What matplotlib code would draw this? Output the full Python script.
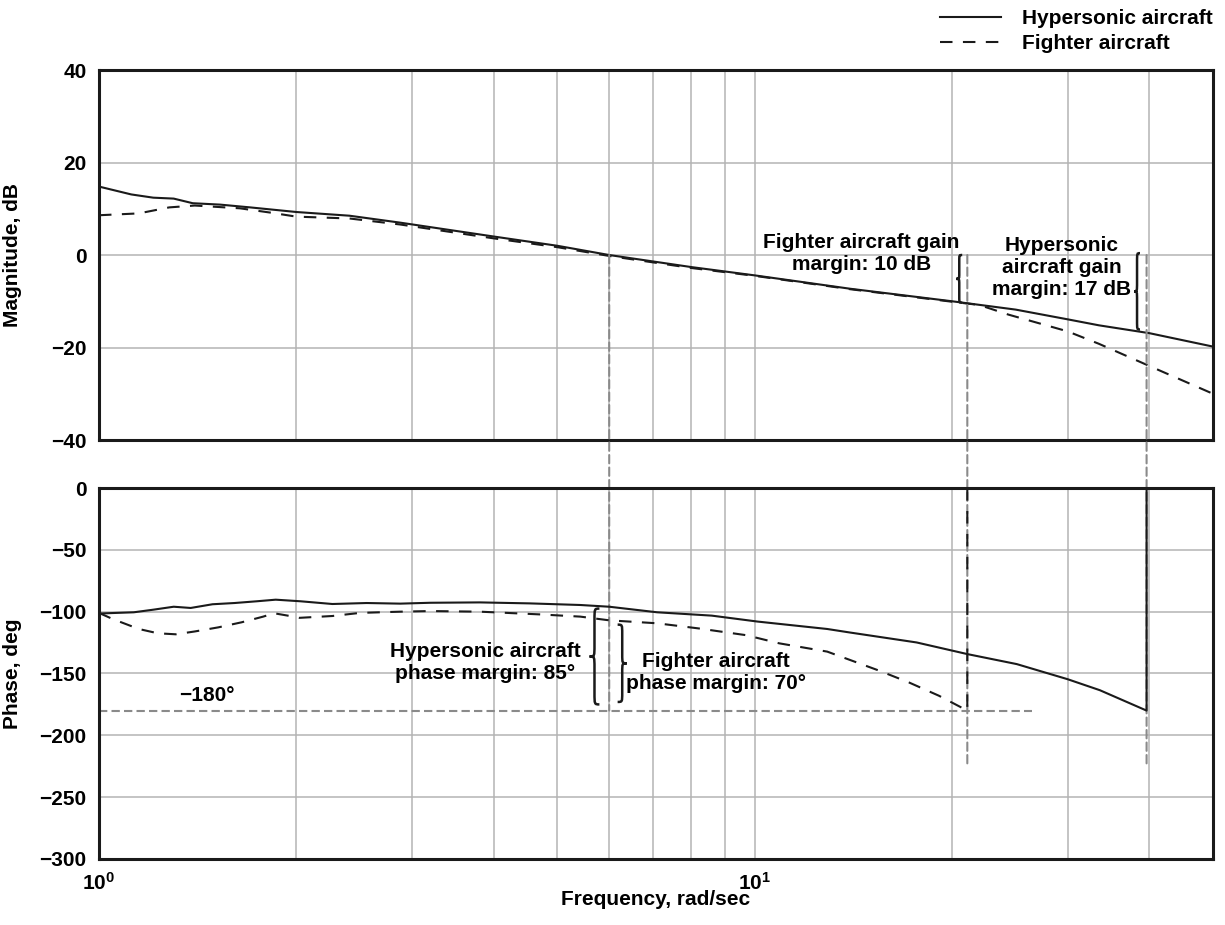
import numpy as np
import matplotlib
matplotlib.use('Agg')
import matplotlib.pyplot as plt
from matplotlib.path import Path
from matplotlib.patches import PathPatch, ConnectionPatch
from matplotlib.lines import Line2D
from matplotlib.ticker import FuncFormatter, NullFormatter, LogLocator

plt.rcParams['font.family'] = ['Liberation Sans', 'DejaVu Sans']
plt.rcParams['font.weight'] = 'bold'
plt.rcParams['axes.labelweight'] = 'bold'
plt.rcParams['mathtext.fontset'] = 'custom'
plt.rcParams['mathtext.bf'] = 'Liberation Sans:bold'
plt.rcParams['mathtext.rm'] = 'Liberation Sans:bold'

# magnitude response, rad/sec vs dB
hyp_mag_freq = [1.0, 1.12, 1.21, 1.30, 1.39, 1.53, 1.70, 2.0, 2.41, 2.88, 4.0, 5.0,
                6.0, 8.0, 10.0, 14.0, 20.0, 25.0, 30.0, 33.5, 40.0, 50.0]
hyp_mag = [14.8, 13.1, 12.4, 12.2, 11.2, 10.9, 10.3, 9.3, 8.5, 7.0, 4.0, 2.0,
           0.0, -2.6, -4.4, -7.3, -10.0, -11.8, -13.9, -15.2, -16.9, -19.8]

ftr_mag_freq = [1.0, 1.15, 1.28, 1.40, 1.64, 1.82, 2.0, 2.41, 2.88, 4.0, 5.0, 6.0,
                8.0, 10.0, 14.0, 20.0, 22.0, 24.4, 30.0, 33.5, 40.0, 50.0]
ftr_mag = [8.6, 9.0, 10.3, 10.7, 10.1, 9.2, 8.3, 7.9, 6.6, 3.6, 1.7, -0.2,
           -2.8, -4.5, -7.4, -10.1, -10.8, -12.9, -16.5, -19.2, -24.0, -30.0]

# phase response, deg (last point wraps past -180)
hyp_ph_freq = [1.0, 1.13, 1.21, 1.30, 1.38, 1.49, 1.61, 1.74, 1.86, 2.03, 2.27, 2.56,
               2.88, 3.2, 3.81, 4.54, 5.42, 6.0, 7.1, 8.6, 10.1, 12.9, 13.95, 17.66,
               21.1, 25.1, 30.0, 33.6, 39.6, 39.6]
hyp_ph = [-101.5, -100.5, -98.4, -96.0, -97.0, -94.0, -93.0, -91.6, -90.3, -91.6, -93.8, -93.0,
          -93.5, -92.8, -92.5, -93.3, -94.6, -96.0, -100.5, -103.2, -108.0, -114.0, -116.8, -124.9,
          -134.3, -142.4, -154.6, -163.5, -180.0, 180.0]

ftr_ph_freq = [1.0, 1.05, 1.15, 1.23, 1.31, 1.40, 1.52, 1.65, 1.78, 1.85, 1.98, 2.02,
               2.27, 2.5, 2.88, 3.2, 3.81, 4.7, 5.42, 6.0, 7.1, 8.2, 9.7, 10.9,
               12.9, 13.95, 15.5, 17.2, 19.1, 21.1, 21.1]
ftr_ph = [-101.0, -106.0, -114.0, -117.5, -118.3, -116.0, -112.7, -108.6, -104.0, -101.3, -104.0, -105.0,
          -103.5, -101.0, -100.0, -99.5, -100.0, -102.2, -104.0, -107.0, -109.4, -113.5, -119.0, -125.6,
          -132.3, -138.9, -147.8, -157.3, -168.0, -180.0, 180.0]

gain_cross = 6.0          # 0 dB crossing, both aircraft
ftr_phase_cross = 21.1    # -180 deg crossing
hyp_phase_cross = 39.6
ftr_gm, hyp_gm = 10, 17
hyp_pm, ftr_pm = 85, 70

BLACK = '#1a1a1a'
GRAY = '#8a8a8a'
FS = 15
DASH = (6, 5)


def brace(ax, x, y0, y1, w, tip='left', lw=1.8):
    """Vertical curly brace from y0 to y1; x and w are in decades (log axis)."""
    lx = np.log10(x)
    if tip == 'left':
        t, s, e = lx, lx + w / 2, lx + w
    else:
        t, s, e = lx + w, lx + w / 2, lx
    top, bot = max(y0, y1), min(y0, y1)
    ym = (top + bot) / 2
    r = (top - bot) * 0.12
    verts = [(e, top), (s, top), (s, top), (s, top - r),
             (s, ym + r),
             (s, ym), (s, ym), (t, ym),
             (s, ym), (s, ym), (s, ym - r),
             (s, bot + r),
             (s, bot), (s, bot), (e, bot)]
    codes = [Path.MOVETO, Path.CURVE4, Path.CURVE4, Path.CURVE4,
             Path.LINETO,
             Path.CURVE4, Path.CURVE4, Path.CURVE4,
             Path.CURVE4, Path.CURVE4, Path.CURVE4,
             Path.LINETO,
             Path.CURVE4, Path.CURVE4, Path.CURVE4]
    verts = [(10 ** vx, vy) for vx, vy in verts]
    ax.add_patch(PathPatch(Path(verts, codes), fill=False, lw=lw, color=BLACK, zorder=5))


fig = plt.figure(figsize=(12.25, 9.25), dpi=100)
ax_mag = fig.add_axes([0.0808, 0.5243, 0.9094, 0.4])
ax_ph = fig.add_axes([0.0808, 0.0714, 0.9094, 0.401])

for ax in (ax_mag, ax_ph):
    ax.set_xscale('log')
    ax.set_xlim(1, 50)
    ax.xaxis.set_minor_locator(LogLocator(base=10, subs=np.arange(2, 10)))
    ax.xaxis.set_minor_formatter(NullFormatter())
    ax.xaxis.set_major_formatter(FuncFormatter(lambda v, p: r'$\mathbf{10^{%d}}$' % round(np.log10(v))))
    ax.grid(which='major', color='#b4b4b4', lw=1.1)
    ax.grid(which='minor', axis='x', color='#b4b4b4', lw=1.1)
    ax.set_axisbelow(True)
    ax.tick_params(which='both', length=0, labelsize=FS, pad=9)
    for sp in ax.spines.values():
        sp.set_linewidth(2.2)
        sp.set_color(BLACK)

ax_mag.set_ylim(-40, 40)
ax_mag.set_yticks([-40, -20, 0, 20, 40])
ax_mag.tick_params(labelbottom=False)
ax_ph.set_ylim(-300, 0)
ax_ph.set_yticks(np.arange(-300, 1, 50))

ax_mag.plot(hyp_mag_freq, hyp_mag, color=BLACK, lw=1.5, label='Hypersonic aircraft')
ax_mag.plot(ftr_mag_freq, ftr_mag, color=BLACK, lw=1.5, dashes=DASH, label='Fighter aircraft')
ax_ph.plot(hyp_ph_freq, hyp_ph, color=BLACK, lw=1.5, zorder=3)
ax_ph.plot(ftr_ph_freq, ftr_ph, color=BLACK, lw=1.5, dashes=DASH, zorder=3)

# -180 deg reference
ax_ph.plot([1.0, 26.5], [-180, -180], color=GRAY, lw=1.5, dashes=(4, 2), zorder=1.5)
ax_ph.text(1.46, -168, '\u2212180\u00b0', fontsize=FS, ha='center', va='center')

# crossover markers spanning both panels
for f, y_end in ((gain_cross, -180), (ftr_phase_cross, -225), (hyp_phase_cross, -225)):
    con = ConnectionPatch(xyA=(f, 0), coordsA=ax_mag.transData,
                          xyB=(f, y_end), coordsB=ax_ph.transData,
                          arrowstyle='-', shrinkA=0, shrinkB=0,
                          color=GRAY, lw=1.5, linestyle=(0, (4, 2)), zorder=1.5)
    ax_ph.add_artist(con)
    con.set_clip_on(False)

# gain margins
brace(ax_mag, 20.3, 0, -ftr_gm - 0.3, 0.009)
brace(ax_mag, 37.9, 0.4, -hyp_gm + 0.9, 0.009)
ax_mag.text(14.56, 0.4, 'Fighter aircraft gain\nmargin: %d dB' % ftr_gm,
            fontsize=FS, ha='center', va='center', linespacing=1.2)
ax_mag.text(29.4, -2.7, 'Hypersonic\naircraft gain\nmargin: %d dB' % hyp_gm,
            fontsize=FS, ha='center', va='center', linespacing=1.2)

# phase margins
brace(ax_ph, 5.60, -97.5, -175, 0.015)
brace(ax_ph, 6.18, -110.5, -173, 0.014, tip='right')
ax_ph.text(3.88, -141.5, 'Hypersonic aircraft\nphase margin: %d\u00b0' % hyp_pm,
           fontsize=FS, ha='center', va='center', linespacing=1.2)
ax_ph.text(8.72, -149.6, 'Fighter aircraft\nphase margin: %d\u00b0' % ftr_pm,
           fontsize=FS, ha='center', va='center', linespacing=1.2)

ax_mag.set_ylabel('Magnitude, dB', fontsize=FS)
ax_mag.yaxis.set_label_coords(-0.069, 0.5)
ax_ph.set_ylabel('Phase, deg', fontsize=FS)
ax_ph.yaxis.set_label_coords(-0.069, 0.5)
ax_ph.set_xlabel('Frequency, rad/sec', fontsize=FS)
ax_ph.xaxis.set_label_coords(0.5, -0.085)

handles = [Line2D([], [], color=BLACK, lw=1.5),
           Line2D([], [], color=BLACK, lw=1.5, dashes=DASH)]
fig.legend(handles, ['Hypersonic aircraft', 'Fighter aircraft'],
           loc='upper right', bbox_to_anchor=(1.0, 1.004), frameon=False,
           fontsize=FS, handlelength=2.9, handletextpad=1.0, labelspacing=0.3,
           borderaxespad=0.2)

fig.savefig('out.png', dpi=100)
